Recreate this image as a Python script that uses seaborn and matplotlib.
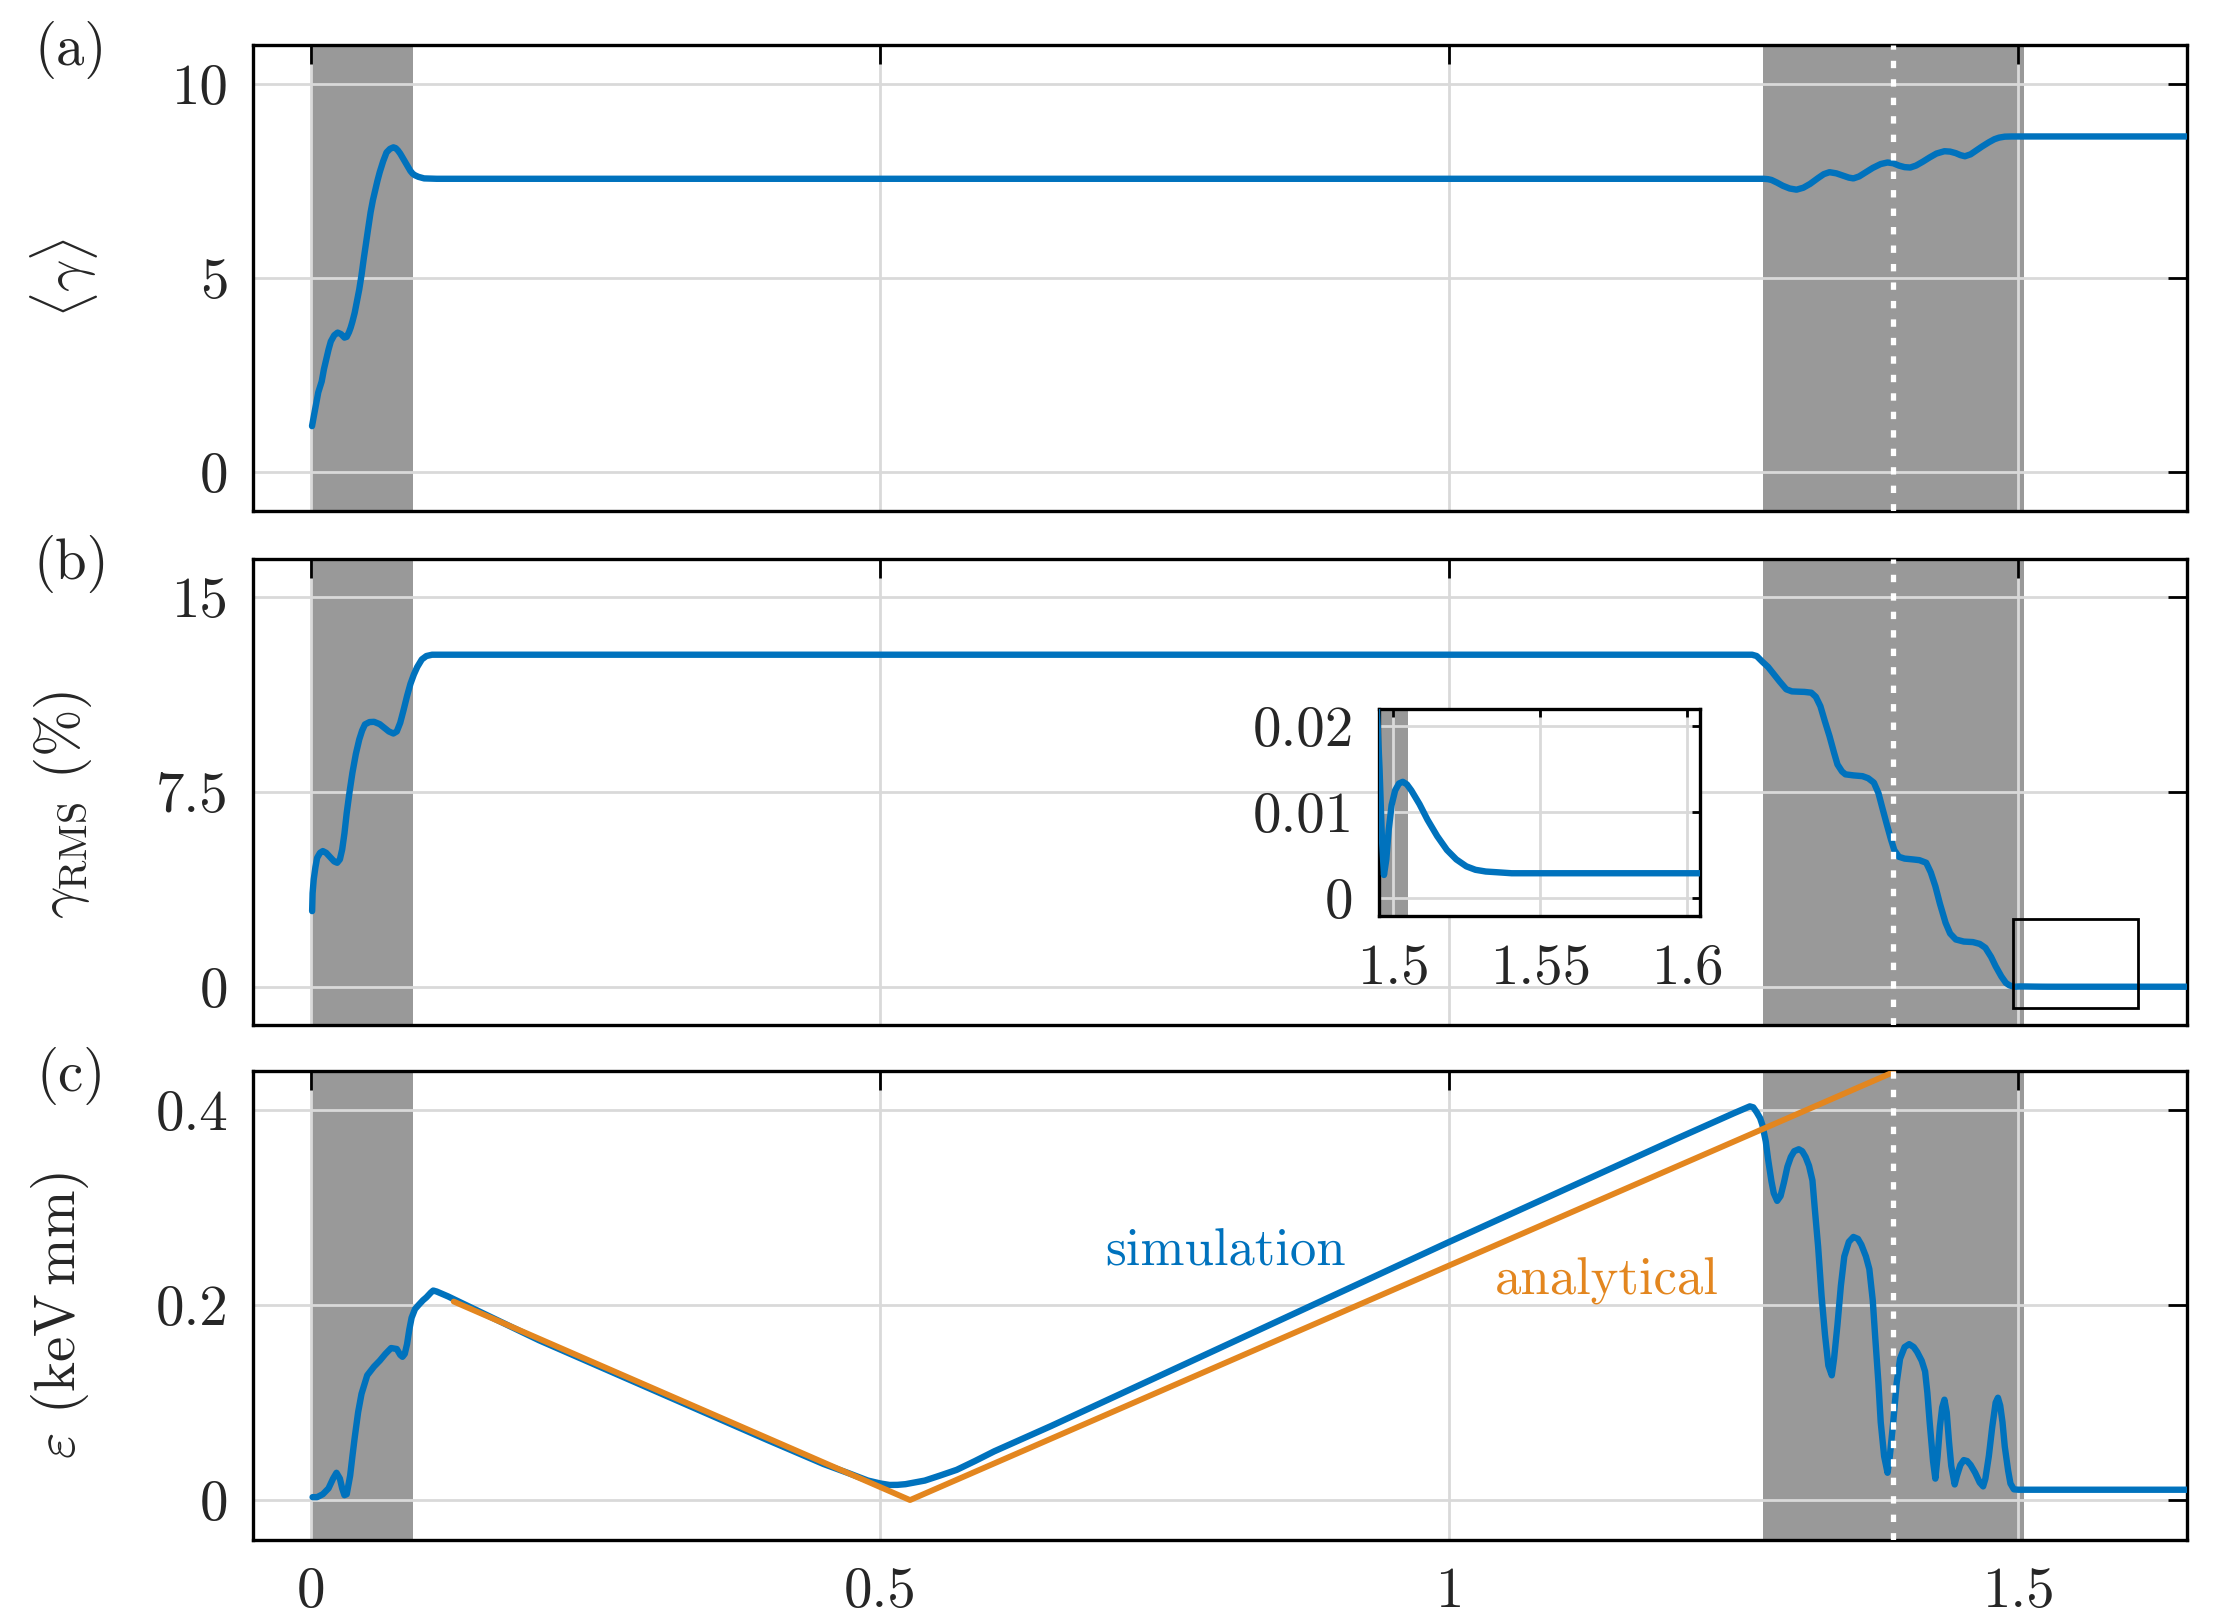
import matplotlib
matplotlib.use("Agg")
import matplotlib.pyplot as plt
import seaborn as sns
from matplotlib.ticker import FixedLocator, FuncFormatter, NullFormatter
from matplotlib.patches import Rectangle

# ---------------- data ----------------
gamma_x = [0.0005, 0.0025, 0.006, 0.009, 0.011, 0.013, 0.015, 0.017, 0.020, 0.023,
           0.026, 0.029, 0.031, 0.033, 0.0345, 0.036, 0.038, 0.040, 0.042, 0.044,
           0.046, 0.048, 0.050, 0.052, 0.054, 0.056, 0.058, 0.060, 0.063, 0.066,
           0.069, 0.072, 0.074, 0.076, 0.078, 0.080, 0.083, 0.085, 0.087, 0.089,
           0.091, 0.094, 0.099, 0.110,
           1.276, 1.280, 1.283, 1.288, 1.293, 1.299, 1.305, 1.311, 1.317, 1.324,
           1.329, 1.334, 1.340, 1.346, 1.351, 1.355, 1.360, 1.366, 1.372, 1.379,
           1.385, 1.390, 1.395, 1.400, 1.405, 1.410, 1.416, 1.422, 1.428, 1.435,
           1.440, 1.445, 1.449, 1.453, 1.458, 1.463, 1.468, 1.474, 1.479, 1.483,
           1.488, 1.494, 1.650]
gamma_y = [1.18, 1.50, 2.05, 2.33, 2.65, 2.90, 3.15, 3.36, 3.52, 3.59,
           3.55, 3.46, 3.48, 3.60, 3.72, 3.87, 4.10, 4.40, 4.70, 5.07,
           5.50, 5.90, 6.30, 6.69, 7.00, 7.25, 7.50, 7.72, 8.00, 8.23,
           8.32, 8.36, 8.34, 8.28, 8.20, 8.10, 7.95, 7.85, 7.75, 7.68,
           7.64, 7.60, 7.56, 7.55,
           7.55, 7.54, 7.52, 7.45, 7.37, 7.30, 7.27, 7.32, 7.42, 7.57,
           7.67, 7.72, 7.69, 7.63, 7.58, 7.56, 7.61, 7.72, 7.83, 7.93,
           7.97, 7.95, 7.89, 7.85, 7.84, 7.89, 7.99, 8.10, 8.20, 8.26,
           8.25, 8.21, 8.16, 8.13, 8.18, 8.28, 8.38, 8.49, 8.57, 8.61,
           8.635, 8.64, 8.64]

rms_x = [0.0006, 0.001, 0.002, 0.0035, 0.005, 0.0075, 0.010, 0.013, 0.017, 0.020,
         0.0226, 0.025, 0.027, 0.029, 0.031, 0.0335, 0.036, 0.039, 0.042, 0.0445,
         0.047, 0.051, 0.055, 0.060, 0.064, 0.068, 0.072, 0.075, 0.078, 0.081,
         0.084, 0.087, 0.090, 0.093, 0.097, 0.101, 0.106,
         1.266, 1.270, 1.275, 1.280, 1.284, 1.290, 1.296, 1.301, 1.306, 1.312,
         1.318, 1.322, 1.326, 1.330, 1.334, 1.338, 1.341, 1.345, 1.348, 1.355,
         1.363, 1.368, 1.373, 1.377, 1.380, 1.384, 1.388, 1.391, 1.395, 1.400,
         1.407, 1.413, 1.419, 1.423, 1.427, 1.431, 1.436, 1.440, 1.445, 1.452,
         1.460, 1.466, 1.471, 1.476, 1.480, 1.485, 1.489, 1.492, 1.4945,
         1.4954, 1.4962, 1.4969, 1.4977, 1.4985, 1.4995, 1.5007, 1.5020, 1.5033, 1.5047,
         1.5062, 1.5090, 1.5117, 1.5150, 1.5183, 1.5215, 1.5249, 1.5280, 1.5315, 1.5360,
         1.5403, 1.650]
rms_y = [2.91, 3.60, 4.13, 4.60, 4.96, 5.15, 5.22, 5.15, 4.96, 4.82,
         4.77, 4.90, 5.28, 5.90, 6.69, 7.50, 8.23, 8.95, 9.51, 9.85,
         10.09, 10.18, 10.19, 10.10, 9.96, 9.82, 9.74, 9.82, 10.15, 10.65,
         11.18, 11.65, 12.01, 12.30, 12.59, 12.72, 12.77,
         12.77, 12.72, 12.50, 12.30, 12.08, 11.75, 11.44, 11.36, 11.35, 11.34,
         11.31, 11.15, 10.79, 10.20, 9.64, 9.00, 8.55, 8.28, 8.17, 8.13,
         8.10, 8.02, 7.85, 7.45, 6.95, 6.30, 5.67, 5.25, 5.00, 4.93,
         4.90, 4.87, 4.77, 4.40, 3.87, 3.20, 2.46, 2.05, 1.82, 1.74,
         1.72, 1.65, 1.50, 1.15, 0.79, 0.40, 0.15, 0.06, 0.022,
         0.015, 0.007, 0.0027, 0.0045, 0.0079, 0.0108, 0.0125, 0.0133, 0.0135, 0.0132,
         0.0125, 0.0109, 0.0091, 0.0072, 0.0056, 0.0045, 0.0037, 0.0033, 0.0031, 0.0030,
         0.0029, 0.0029]

emit_x = [0.001, 0.005, 0.010, 0.015, 0.019, 0.022, 0.025, 0.027, 0.029, 0.031,
          0.034, 0.036, 0.038, 0.041, 0.044, 0.049, 0.055, 0.060, 0.065, 0.070,
          0.075, 0.078, 0.080, 0.082, 0.084, 0.086, 0.088, 0.091, 0.094, 0.098,
          0.101, 0.105, 0.107, 0.110, 0.120,
          0.200, 0.300, 0.400, 0.450, 0.472, 0.489, 0.500, 0.508, 0.515, 0.522,
          0.530, 0.539, 0.552, 0.567, 0.583, 0.600, 0.650, 0.700, 0.800, 0.900,
          1.000, 1.100, 1.200, 1.250, 1.258, 1.264, 1.267, 1.270, 1.273, 1.275,
          1.278, 1.280, 1.283, 1.285, 1.288, 1.291, 1.294, 1.297, 1.300, 1.303,
          1.307, 1.310, 1.313, 1.316, 1.319, 1.321, 1.324, 1.327, 1.330, 1.333,
          1.336, 1.338, 1.341, 1.344, 1.347, 1.351, 1.355, 1.359, 1.362, 1.366,
          1.369, 1.372, 1.374, 1.377, 1.379, 1.382, 1.385, 1.387, 1.390, 1.393,
          1.396, 1.400, 1.404, 1.408, 1.411, 1.415, 1.418, 1.420, 1.422, 1.425,
          1.427, 1.429, 1.431, 1.433, 1.435, 1.437, 1.439, 1.441, 1.444, 1.446,
          1.449, 1.452, 1.455, 1.458, 1.462, 1.466, 1.469, 1.471, 1.474, 1.477,
          1.480, 1.482, 1.484, 1.486, 1.488, 1.491, 1.493, 1.496, 1.500, 1.650]
emit_y = [0.003, 0.003, 0.006, 0.012, 0.022, 0.028, 0.022, 0.012, 0.005, 0.006,
          0.025, 0.045, 0.064, 0.090, 0.109, 0.128, 0.137, 0.143, 0.150, 0.156,
          0.155, 0.149, 0.147, 0.150, 0.160, 0.175, 0.187, 0.196, 0.200, 0.205,
          0.208, 0.213, 0.215, 0.214, 0.209,
          0.164, 0.113, 0.062, 0.037, 0.0276, 0.020, 0.017, 0.0155, 0.0156, 0.0163,
          0.018, 0.020, 0.025, 0.031, 0.040, 0.050, 0.076, 0.103, 0.157, 0.211,
          0.265, 0.318, 0.371, 0.397, 0.401, 0.404, 0.403, 0.398, 0.392, 0.385,
          0.368, 0.350, 0.327, 0.315, 0.307, 0.312, 0.326, 0.342, 0.352, 0.358,
          0.360, 0.358, 0.352, 0.343, 0.328, 0.300, 0.260, 0.210, 0.170, 0.138,
          0.128, 0.145, 0.180, 0.220, 0.250, 0.265, 0.270, 0.268, 0.262, 0.250,
          0.237, 0.205, 0.170, 0.120, 0.080, 0.045, 0.028, 0.045, 0.080, 0.120,
          0.145, 0.157, 0.160, 0.157, 0.152, 0.143, 0.132, 0.110, 0.080, 0.040,
          0.022, 0.045, 0.075, 0.095, 0.103, 0.090, 0.060, 0.035, 0.016, 0.025,
          0.036, 0.041, 0.040, 0.036, 0.028, 0.018, 0.014, 0.022, 0.045, 0.075,
          0.100, 0.105, 0.097, 0.080, 0.055, 0.030, 0.017, 0.011, 0.0106, 0.0106]

analytic_x = [0.125, 0.526, 1.390]
analytic_y = [0.2037, 0.0, 0.439]

shade_regions = [(0.0, 0.0895), (1.276, 1.505)]
marker_x = 1.39

x_ticks = [0, 0.5, 1, 1.5]
y_ticks = [[0, 5, 10], [0, 7.5, 15], [0, 0.2, 0.4]]
y_lims = [(-1.0, 11.0), (-1.45, 16.45), (-0.0405, 0.44)]
x_lim = (-0.051, 1.648)
inset_xticks = [1.5, 1.55, 1.6]
inset_yticks = [0, 0.01, 0.02]
inset_xlim = (1.4951, 1.6044)
inset_ylim = (-0.00205, 0.0219)
zoom_box = (1.495, -0.81, 1.605, 2.6)   # x0, y0, x1, y1 in panel (b) data units
panel_labels = ["(a)", "(b)", "(c)"]
y_labels = [r"$\langle\gamma\rangle$", r"$\gamma_{\rm RMS}$ (%)", r"$\varepsilon$ (keV$\,$mm)"]
series_labels = ["simulation", "analytical"]

BLUE = "#0072BD"
ORANGE = "#E3861F"
SHADE = "#999999"
GRID = "#d9d9d9"

# ---------------- style ----------------
sns.set_style("white")
plt.rcParams.update({
    "font.family": ["cmr10"],
    "mathtext.fontset": "cm",
    "axes.formatter.use_mathtext": True,
    "font.size": 20,
    "xtick.direction": "in",
    "ytick.direction": "in",
    "xtick.top": True,
    "ytick.right": True,
    "xtick.major.size": 7,
    "ytick.major.size": 7,
    "xtick.major.width": 1.0,
    "ytick.major.width": 1.0,
    "xtick.major.pad": 10,
    "ytick.major.pad": 9,
    "xtick.labelsize": 20.5,
    "ytick.labelsize": 20.5,
    "axes.linewidth": 1.2,
    "axes.edgecolor": "black",
    "axes.unicode_minus": False,
})

fig = plt.figure(figsize=(2219 / 200, 1618 / 200), dpi=200)
left, width = 0.1142, 0.8713
bottoms = [0.6843, 0.3668, 0.0485]
heights = [0.2880, 0.2877, 0.2894]
axes = [fig.add_axes([left, b, width, h]) for b, h in zip(bottoms, heights)]

fmt = FuncFormatter(lambda v, p: f"{v:g}")


def style_axis(ax, xt, yt, xl, yl, show_x=True, size=7):
    ax.set_xlim(*xl)
    ax.set_ylim(*yl)
    ax.xaxis.set_major_locator(FixedLocator(xt))
    ax.yaxis.set_major_locator(FixedLocator(yt))
    ax.yaxis.set_major_formatter(fmt)
    if show_x:
        ax.xaxis.set_major_formatter(fmt)
    else:
        ax.xaxis.set_major_formatter(NullFormatter())
    ax.set_axisbelow("line")
    ax.grid(True, color=GRID, lw=1.0)
    ax.tick_params(which="major", length=size, color="black")
    ax.set_xlabel("")
    ax.set_ylabel("")
    for s in ax.spines.values():
        s.set_visible(True)
        s.set_linewidth(1.2)
        s.set_color("black")


series = [(gamma_x, gamma_y), (rms_x, rms_y), (emit_x, emit_y)]
for i, ax in enumerate(axes):
    for (a, b) in shade_regions:
        ax.axvspan(a, b, color=SHADE, lw=0, zorder=1)
    sx, sy = series[i]
    sns.lineplot(x=sx, y=sy, ax=ax, color=BLUE, lw=2.3, estimator=None,
                 sort=False, zorder=3)
    style_axis(ax, x_ticks, y_ticks[i], x_lim, y_lims[i], show_x=(i == 2))
    ax.axvline(marker_x, color="white", lw=1.9, ls=(0, (1.4, 2.1)), zorder=4)

# analytical line in panel (c)
sns.lineplot(x=analytic_x, y=analytic_y, ax=axes[2], color=ORANGE, lw=2.1,
             estimator=None, sort=False, zorder=3.5)
axes[2].text(0.803, 0.255, series_labels[0], color=BLUE, ha="center", va="center",
             fontsize=19)
axes[2].text(1.138, 0.224, series_labels[1], color=ORANGE, ha="center", va="center",
             fontsize=19)

# zoom box in panel (b)
x0, y0, x1, y1 = zoom_box
axes[1].add_patch(Rectangle((x0, y0), x1 - x0, y1 - y0, fill=False,
                            ec="black", lw=1.0, zorder=5))

# inset
ax_in = fig.add_axes([0.6213, 0.4339, 0.1449, 0.1277])
ax_in.set_zorder(10)
ax_in.set_facecolor("white")
for (a, b) in shade_regions:
    ax_in.axvspan(a, b, color=SHADE, lw=0, zorder=1)
sns.lineplot(x=rms_x, y=rms_y, ax=ax_in, color=BLUE, lw=2.3, estimator=None,
             sort=False, zorder=3)
style_axis(ax_in, inset_xticks, inset_yticks, inset_xlim, inset_ylim, show_x=True,
           size=3)

# panel labels and y labels
centers = [b + h / 2 for b, h in zip(bottoms, heights)]
for lab, b, h in zip(panel_labels, bottoms, heights):
    fig.text(0.032, b + h - 0.003, lab, ha="center", va="center", fontsize=20.5)
ylab_x = [0.029, 0.0285, 0.027]
ylab_y = [centers[0], centers[1] - 0.008, centers[2] - 0.006]
for lab, xx, yy in zip(y_labels, ylab_x, ylab_y):
    fig.text(xx, yy, lab, rotation=90, ha="center", va="center", fontsize=20.5)

fig.savefig("out.png", dpi=200)
